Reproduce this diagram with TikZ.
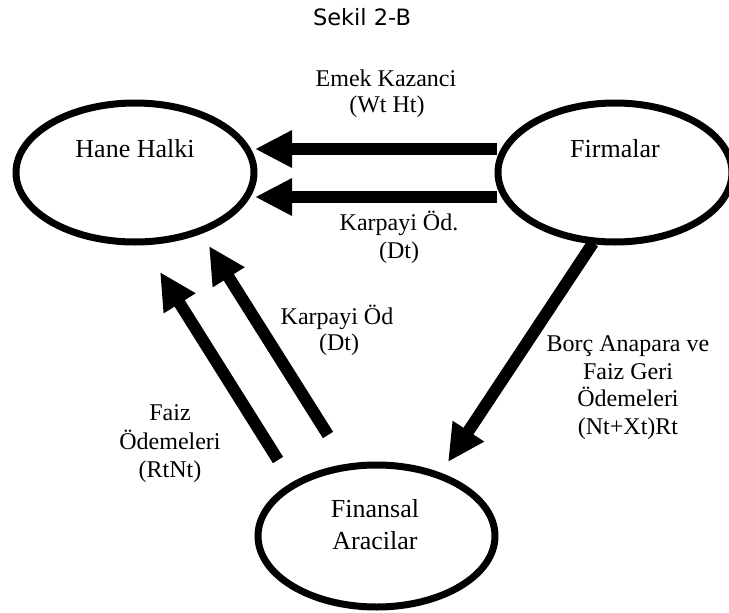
\documentclass[tikz,border=0pt]{standalone}
\usepackage{fontspec}
\setmainfont{Liberation Serif}
\newfontfamily\titlefont{DejaVu Sans}
\usetikzlibrary{arrows.meta,shapes.geometric}
\tikzset{
  oval/.style={draw, ellipse, line width=7pt, inner sep=0pt, outer sep=0pt},
  flow/.style={line width=12pt, -{Triangle[length=37pt,width=35pt]}},
  lbl/.style={anchor=base, inner sep=0pt, font=\fontsize{24}{28}\selectfont},
  olbl/.style={anchor=base, inner sep=0pt, font=\fontsize{26}{30}\selectfont},
}
\begin{document}
\begin{tikzpicture}[x=1pt,y=-1pt]
\useasboundingbox (0,0) rectangle (729,613);
% ellipses
\node[oval, minimum width=238pt, minimum height=139pt] (hane) at (135,172.5) {};
\node[oval, minimum width=234pt, minimum height=139pt] (firma) at (615,172.5) {};
\node[oval, minimum width=237pt, minimum height=142pt] (finans) at (376.5,536) {};
% ellipse labels
\node[olbl] (haneT) at (135,157) {Hane Halki};
\node[olbl] (firmaT) at (615,157) {Firmalar};
\node[olbl] (finT1) at (375,517) {Finansal};
\node[olbl] (finT2) at (375,549) {Aracilar};
% title
\node[anchor=base, inner sep=0pt, font=\titlefont\fontsize{22.5}{26}\selectfont] (title) at (362,25) {Sekil 2-B};
% arrow end points
\coordinate (a1s) at (497,149); \coordinate (a1e) at (255,149);
\coordinate (a2s) at (497,197); \coordinate (a2e) at (255,197);
\coordinate (a3s) at (278,460); \coordinate (a3e) at (160,272);
\coordinate (a4s) at (328,435); \coordinate (a4e) at (209,246);
\coordinate (a5s) at (593,243); \coordinate (a5e) at (448,462);
\draw[flow] (a1s) -- (a1e);
\draw[flow] (a2s) -- (a2e);
\draw[flow] (a3s) -- (a3e);
\draw[flow] (a4s) -- (a4e);
\draw[flow] (a5s) -- (a5e);
% labels
\node[lbl] (l1a) at (386,86) {Emek Kazanci};
\node[lbl] (l1b) at (387,112) {(Wt Ht)};
\node[lbl] (l2a) at (399,230) {Karpayi Öd.};
\node[lbl] (l2b) at (399,258) {(Dt)};
\node[lbl] (l3a) at (337,324) {Karpayi Öd};
\node[lbl] (l3b) at (339,350) {(Dt)};
\node[lbl] (l4a) at (170,420) {Faiz};
\node[lbl] (l4b) at (170,449) {Ödemeleri};
\node[lbl] (l4c) at (170,477) {(RtNt)};
\node[lbl] (l5a) at (628,351) {Borç Anapara ve};
\node[lbl] (l5b) at (628,379) {Faiz Geri};
\node[lbl] (l5c) at (628,406) {Ödemeleri};
\node[lbl] (l5d) at (628,434) {(Nt+Xt)Rt};
\end{tikzpicture}
\end{document}
